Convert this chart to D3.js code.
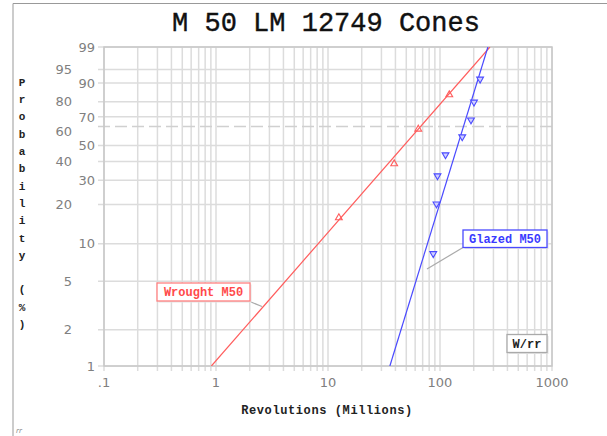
<!DOCTYPE html>
<html>
<head>
<meta charset="utf-8">
<script src="https://cdn.jsdelivr.net/npm/d3@7"></script>
<style>
  body { margin: 0; background: #fff; }
  svg { display: block; }
</style>
</head>
<body>
<script>
// series names
var seriesNames = ["Wrought M50", "Glazed M50"];
// failure times (millions of revolutions)
var wroughtTimes = [12.5, 39, 64, 121];
var glazedTimes = [87, 93, 95, 112, 158, 189, 201, 228];
// fitted Weibull parameters [beta, eta]
var wroughtFit = [1.07, 67];
var glazedFit = [3.04, 162];
// axis ticks
var xTicks = [0.1, 1, 10, 100, 1000];
var xTickLabels = [".1", "1", "10", "100", "1000"];
var yTicksLeft = [95, 80, 60, 40, 20, 5, 2];
var yTicksRight = [99, 90, 70, 50, 30, 10, 1];
var yGrid = [99, 95, 90, 80, 70, 50, 40, 30, 20, 10, 5, 2, 1];

var W = 607, H = 436;
var pLeft = 104, pRight = 552, pTop = 47, pBottom = 366;
var mono = "'Liberation Mono', 'Courier New', monospace";

var svg = d3.select("body").append("svg")
  .attr("width", W).attr("height", H);

svg.append("rect").attr("width", W).attr("height", H).attr("fill", "#fff");

// outer frame (top and left edges only)
svg.append("path")
  .attr("d", "M13," + H + "V3.5H" + W)
  .attr("fill", "none").attr("stroke", "#999").attr("stroke-width", 1);

// weibull transform
function wt(p) { return Math.log(-Math.log(1 - p)); }

var x = d3.scaleLog().domain([0.1, 1000]).range([pLeft, pRight]);
var y = d3.scaleLinear().domain([wt(0.01), wt(0.99)]).range([pBottom, pTop]);
function yp(pct) { return y(wt(pct / 100)); }

// vertical grid
var xGrid = [];
[0.1, 1, 10, 100].forEach(function(d) {
  for (var k = 1; k < 10; k++) xGrid.push(d * k);
});
xGrid.push(1000);

svg.append("g").selectAll("line")
  .data(xGrid).enter().append("line")
  .attr("x1", function(d) { return x(d); })
  .attr("x2", function(d) { return x(d); })
  .attr("y1", pTop).attr("y2", pBottom + 5)
  .attr("stroke", "#dcdcdc").attr("stroke-width", 1.5);

// horizontal grid
svg.append("g").selectAll("line")
  .data(yGrid).enter().append("line")
  .attr("x1", pLeft - 6).attr("x2", pRight)
  .attr("y1", function(d) { return yp(d); })
  .attr("y2", function(d) { return yp(d); })
  .attr("stroke", "#dcdcdc").attr("stroke-width", 1.5);

// 63.2% line
svg.append("line")
  .attr("x1", pLeft - 6).attr("x2", pRight)
  .attr("y1", y(0)).attr("y2", y(0))
  .attr("stroke", "#d0d0d0").attr("stroke-width", 1.5)
  .attr("stroke-dasharray", "12,5");

// plot border
svg.append("rect")
  .attr("x", pLeft).attr("y", pTop)
  .attr("width", pRight - pLeft).attr("height", pBottom - pTop)
  .attr("fill", "none").attr("stroke", "#c8c8c8").attr("stroke-width", 1.5);

// tick labels
svg.append("g").selectAll("text")
  .data(xTicks).enter().append("text")
  .attr("x", function(d) { return x(d); })
  .attr("y", 387)
  .attr("text-anchor", "middle")
  .attr("font-family", "'DejaVu Sans', Verdana, sans-serif")
  .attr("font-size", 13).attr("fill", "#808080")
  .text(function(d, i) { return xTickLabels[i]; });

function yLabels(data, xr) {
  svg.append("g").selectAll("text")
    .data(data).enter().append("text")
    .attr("x", xr)
    .attr("y", function(d) { return yp(d); })
    .attr("dy", "0.36em")
    .attr("text-anchor", "end")
    .attr("font-family", "'DejaVu Sans', Verdana, sans-serif")
    .attr("font-size", 13).attr("fill", "#808080")
    .text(function(d) { return d; });
}
yLabels(yTicksLeft, 72);
yLabels(yTicksRight, 95);

// title
svg.append("text")
  .attr("x", 326).attr("y", 31)
  .attr("text-anchor", "middle")
  .attr("font-family", mono).attr("font-size", 27)
  .attr("fill", "#111").attr("stroke", "#111").attr("stroke-width", 0.4)
  .text("M 50 LM 12749 Cones");

// x title
svg.append("text")
  .attr("x", 327).attr("y", 414)
  .attr("text-anchor", "middle")
  .attr("font-family", mono).attr("font-size", 12)
  .attr("font-weight", "bold").attr("letter-spacing", 0.6)
  .attr("fill", "#222")
  .text("Revolutions (Millions)");

// y title, stacked letters
var yTitle = "Probability (%)".split("");
svg.append("g").selectAll("text")
  .data(yTitle).enter().append("text")
  .attr("x", 22)
  .attr("y", function(d, i) { return 82 + i * 17.3; })
  .attr("dy", "0.35em")
  .attr("text-anchor", "middle")
  .attr("font-family", mono).attr("font-size", 11)
  .attr("font-weight", "bold").attr("fill", "#222")
  .text(function(d) { return d; });

svg.append("text")
  .attr("x", 16).attr("y", 433)
  .attr("font-family", "'DejaVu Sans', sans-serif").attr("font-size", 7)
  .attr("font-style", "italic").attr("fill", "#888")
  .text("rr");

// clip for fit lines
svg.append("clipPath").attr("id", "plotclip")
  .append("rect").attr("x", pLeft).attr("y", pTop)
  .attr("width", pRight - pLeft).attr("height", pBottom - pTop);

// median ranks (Benard)
function ranks(n) {
  return d3.range(n).map(function(i) { return (i + 1 - 0.3) / (n + 0.4); });
}

var series = [
  { name: seriesNames[0], times: wroughtTimes, fit: wroughtFit, color: "#ff5c5c", up: true },
  { name: seriesNames[1], times: glazedTimes, fit: glazedFit, color: "#4a4aff", up: false }
];

series.forEach(function(s) {
  var beta = s.fit[0], eta = s.fit[1];
  var ends = [0.01, 0.99].map(function(p) {
    return [eta * Math.exp(wt(p) / beta), p];
  });
  svg.append("line")
    .attr("clip-path", "url(#plotclip)")
    .attr("x1", x(ends[0][0])).attr("y1", y(wt(ends[0][1])))
    .attr("x2", x(ends[1][0])).attr("y2", y(wt(ends[1][1])))
    .attr("stroke", s.color).attr("stroke-width", 1.2);

  var r = ranks(s.times.length);
  svg.append("g").selectAll("path")
    .data(s.times).enter().append("path")
    .attr("d", d3.symbol().type(d3.symbolTriangle).size(20))
    .attr("transform", function(d, i) {
      return "translate(" + x(d) + "," + y(wt(r[i])) + ")" + (s.up ? "" : " rotate(180)");
    })
    .attr("fill", s.up ? "none" : "#d0d0ff")
    .attr("stroke", s.color).attr("stroke-width", 1.1);
});

// labels with leaders
function labelBox(txt, bx, by, bw, bh, color, border, lx1, ly1, lx2, ly2) {
  if (lx1 != null) {
    svg.append("line")
      .attr("x1", lx1).attr("y1", ly1).attr("x2", lx2).attr("y2", ly2)
      .attr("stroke", "#aaa").attr("stroke-width", 1.2);
  }
  svg.append("rect")
    .attr("x", bx + 1.5).attr("y", by + 1.5).attr("width", bw).attr("height", bh)
    .attr("fill", "#e4e4e4");
  svg.append("rect")
    .attr("x", bx).attr("y", by).attr("width", bw).attr("height", bh)
    .attr("fill", "#fff").attr("stroke", border).attr("stroke-width", 1.3);
  svg.append("text")
    .attr("x", bx + bw / 2).attr("y", by + bh / 2)
    .attr("dy", "0.35em").attr("text-anchor", "middle")
    .attr("font-family", mono).attr("font-size", 12)
    .attr("font-weight", "bold").attr("fill", color)
    .text(txt);
}

labelBox(seriesNames[0], 157, 283, 93, 18, "#ff4a4a", "#ff8080", 251, 302, 262, 306.5);
labelBox(seriesNames[1], 463, 230, 84, 17.5, "#3a3aff", "#4a4aff", 463, 247.5, 427, 269);
labelBox("W/rr", 507, 334.5, 40, 18, "#222", "#aaa", null);
</script>
</body>
</html>
